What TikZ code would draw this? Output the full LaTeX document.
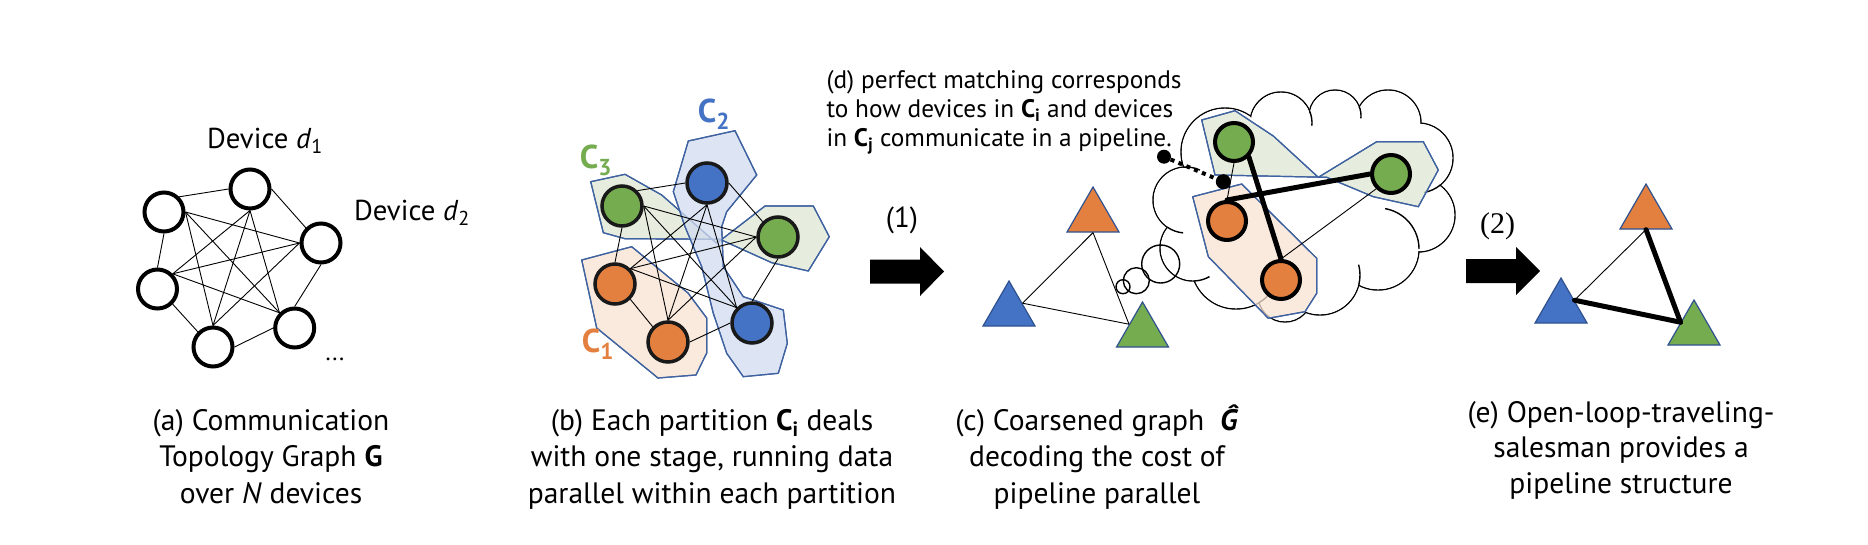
\documentclass[tikz,border=0pt]{standalone}
\usepackage{fontspec}
\setmainfont{PT Sans}
\newfontfamily\serifnum{Liberation Serif}
\usetikzlibrary{shapes.geometric}
\definecolor{myorange}{HTML}{E3803F}
\definecolor{myblue}{HTML}{4472C4}
\definecolor{mygreen}{HTML}{75AC4F}
\definecolor{hullline}{HTML}{3F62A0}
\definecolor{trioutline}{HTML}{2F528F}
\definecolor{hullO}{RGB}{248,228,210}
\definecolor{hullB}{RGB}{210,220,239}
\definecolor{hullG}{RGB}{222,232,211}
\newlength{\tmpw}
\newcommand{\calib}[4]{\settowidth{\tmpw}{#4\fontsize{10}{12}\selectfont #2}\pgfmathsetmacro#1{10*#3/\tmpw}}
\begin{document}
% calibrate text sizes to the widths measured in the reference
\calib{\capsize}{(a) Communication}{236.6}{}%
\calib{\devsize}{Device \textit{d}\textsubscript{1}}{116.6}{}%
\calib{\dsize}{(d) perfect matching corresponds}{355}{}%
\begin{tikzpicture}[x=1pt,y=-1pt,
  dev/.style={circle, draw=black, line width=4pt, fill=white, minimum size=39pt, inner sep=0pt},
  devb/.style={circle, draw=black!90, line width=3.5pt, minimum size=40pt, inner sep=0pt},
  devc/.style={circle, draw=black, line width=4pt, minimum size=38pt, inner sep=0pt},
  edgethin/.style={line width=0.9pt},
  edgethick/.style={line width=5pt, line cap=round},
  hull/.style={draw=hullline, line width=1.2pt, fill opacity=0.75},
  hullstroke/.style={draw=hullline, line width=1.2pt},
  tri/.style={regular polygon, regular polygon sides=3, minimum size=60pt, inner sep=0pt, draw=trioutline, line width=1.2pt},
  cloudline/.style={line width=1.4pt},
  caption/.style={font=\fontsize{\capsize}{36.5}\selectfont, align=center, anchor=base},
  clabel/.style={font=\bfseries\fontsize{33}{34}\selectfont, anchor=base},
]
\fill[white] (0,0) rectangle (1868,544);
\path[use as bounding box] (0,0) rectangle (1868,544);

% ---------------- (a) ----------------
\node[font=\fontsize{\devsize}{30}\selectfont, anchor=base] (d1lbl) at (265,148) {Device \textit{d}\textsubscript{1}};
\node[font=\fontsize{\devsize}{30}\selectfont, anchor=base] (d2lbl) at (412,220) {Device \textit{d}\textsubscript{2}};
\node[dev] (aT) at (250,189) {};
\node[dev] (aLT) at (164,212) {};
\node[dev] (aR) at (321,243) {};
\node[dev] (aLM) at (157.5,289) {};
\node[dev] (aB) at (213,347) {};
\node[dev] (aBR) at (294.7,328) {};
\node[font=\fontsize{24}{28}\selectfont, anchor=base] (dots) at (335,360) {...};

% ---------------- (b) hulls ----------------
\fill[hull, fill=hullG] (590.7,181.7) -- (625,174.3) -- (661.7,195) -- (716.7,243.3) -- (765,206) -- (813.3,206) -- (829.3,236.7) -- (808.3,271) -- (771.7,262.7) -- (720,239.3) -- (625,238.7) -- (603.3,232.7) -- cycle;
\draw[hullstroke] (590.7,181.7) -- (625,174.3) -- (661.7,195) -- (716.7,243.3) -- (765,206) -- (813.3,206) -- (829.3,236.7) -- (808.3,271) -- (771.7,262.7) -- (720,239.3) -- (625,238.7) -- (603.3,232.7) -- cycle;
\fill[hull, fill=hullB] (688.3,141) -- (735,130.7) -- (756.7,175) -- (726.7,211.7) -- (721.7,226.7) -- (723.3,266.7) -- (743.3,296.7) -- (783.3,310) -- (787.3,343.3) -- (778.3,373.3) -- (743.3,376.7) -- (726.7,353.3) -- (713.3,313.3) -- (701.7,266.7) -- (685,226.7) -- (673.3,191.7) -- cycle;
\draw[hullstroke] (688.3,141) -- (735,130.7) -- (756.7,175) -- (726.7,211.7) -- (721.7,226.7) -- (723.3,266.7) -- (743.3,296.7) -- (783.3,310) -- (787.3,343.3) -- (778.3,373.3) -- (743.3,376.7) -- (726.7,353.3) -- (713.3,313.3) -- (701.7,266.7) -- (685,226.7) -- (673.3,191.7) -- cycle;
\fill[hull, fill=hullO] (581.7,260) -- (631.7,246.7) -- (688,293) -- (706.7,318) -- (706.7,353) -- (696,375) -- (658,378) -- (596.7,328) -- cycle;
\draw[hullstroke] (581.7,260) -- (631.7,246.7) -- (688,293) -- (706.7,318) -- (706.7,353) -- (696,375) -- (658,378) -- (596.7,328) -- cycle;

% ---------------- (b) nodes ----------------
\node[devb, fill=mygreen] (bLT) at (622,206) {};
\node[devb, fill=myblue] (bT) at (707,183) {};
\node[devb, fill=mygreen] (bR) at (778,237) {};
\node[devb, fill=myorange] (bLM) at (615,284) {};
\node[devb, fill=myorange] (bB) at (668,342) {};
\node[devb, fill=myblue] (bBR) at (752,323) {};
\node[clabel, text=myorange] (c1) at (598,352) {C\textsubscript{1}};
\node[clabel, text=myblue] (c2) at (714,122) {C\textsubscript{2}};
\node[clabel, text=mygreen] (c3) at (596,168) {C\textsubscript{3}};

% edges of (a) and (b)
\foreach \p in {a,b}{
  \draw[edgethin] (\p T.west) -- (\p LT.north east);
  \draw[edgethin] (\p T.east) -- (\p R.north west);
  \draw[edgethin] (\p R.south) -- (\p BR.north);
  \draw[edgethin] (\p BR.west) -- (\p B.east);
  \draw[edgethin] (\p B.north west) -- (\p LM.south east);
  \draw[edgethin] (\p LM.north) -- (\p LT.south);
  \draw[edgethin] (\p LT.east) -- (\p R.west);
  \draw[edgethin] (\p LT.east) -- (\p BR.north west);
  \draw[edgethin] (\p LT.east) -- (\p B.north);
  \draw[edgethin] (\p T.south) -- (\p LM.north east);
  \draw[edgethin] (\p T.south) -- (\p B.north);
  \draw[edgethin] (\p T.south) -- (\p BR.north west);
  \draw[edgethin] (\p R.west) -- (\p LM.north east);
  \draw[edgethin] (\p R.west) -- (\p B.north);
  \draw[edgethin] (\p LM.north east) -- (\p BR.north west);
}

% ---------------- arrows ----------------
\node[font=\fontsize{29}{32}\selectfont] (one) at (902,220) {(1)};
\fill[black] (870,259.5) -- (920,259.5) -- (920,247) -- (944,271.5) -- (920,296) -- (920,283.5) -- (870,283.5) -- cycle;
\node[font=\serifnum\fontsize{30}{32}\selectfont] (two) at (1497.5,226) {(2)};
\fill[black] (1466,259) -- (1516,259) -- (1516,247) -- (1540,271) -- (1516,295) -- (1516,283) -- (1466,283) -- cycle;

% ---------------- (d) text ----------------
\node[font=\fontsize{\dsize}{29}\selectfont, align=left, anchor=base west] (dtxt) at (823,146)
  {(d) perfect matching corresponds\\to how devices in \textbf{C}\textsubscript{\textbf{i}} and devices\\in \textbf{C}\textsubscript{\textbf{j}} communicate in a pipeline.};

% ---------------- cloud ----------------
\foreach \cx/\cy/\r in {1225/152/44, 1281/123/31, 1335/116/26, 1388/123/33, 1418/158/35, 1418/215/37, 1378/249/41, 1320/275/40, 1285/295/27, 1236/264/45, 1193/248/33, 1186/200/33}
  \draw[cloudline] (\cx,\cy) circle[radius=\r];
\foreach \cx/\cy/\r in {1225/152/44, 1281/123/31, 1335/116/26, 1388/123/33, 1418/158/35, 1418/215/37, 1378/249/41, 1320/275/40, 1285/295/27, 1236/264/45, 1193/248/33, 1186/200/33}
  \fill[white] (\cx,\cy) circle[radius=\r-0.75];
\fill[white] (1225,152) -- (1281,123) -- (1335,116) -- (1388,123) -- (1418,158) -- (1418,215) -- (1378,249) -- (1320,275) -- (1285,295) -- (1236,264) -- (1193,248) -- (1186,200) -- cycle;
\fill[white] (1305,205) ellipse[x radius=115, y radius=75];
\foreach \cx/\cy/\r/\a/\b in {1186/200/33/266/295, 1186/200/33/124/95, 1193/248/33/87/60, 1281/123/31/337/365, 1335/116/26/339/365, 1418/158/35/51/80, 1378/249/41/280/360, 1320/275/40/14/-15, 1236/264/45/59/30}
  \draw[cloudline] (\cx,\cy) ++(\a:\r) arc[start angle=\a, end angle=\b, radius=\r];
% thought bubbles
\draw[cloudline] (1160.7,264) circle[radius=19];
\draw[cloudline] (1136.3,280.7) circle[radius=13];
\draw[cloudline] (1123,286.7) circle[radius=7];

% hulls in cloud
\fill[hull, fill=hullG] (1201.7,120) -- (1235,110.7) -- (1273.3,136) -- (1318.3,177.3) -- (1376.7,141.7) -- (1423.3,141.7) -- (1438.3,170) -- (1418.3,206.7) -- (1373.3,196.7) -- (1326.7,177.3) -- (1215,175) -- cycle;
\draw[hullstroke] (1201.7,120) -- (1235,110.7) -- (1273.3,136) -- (1318.3,177.3) -- (1376.7,141.7) -- (1423.3,141.7) -- (1438.3,170) -- (1418.3,206.7) -- (1373.3,196.7) -- (1326.7,177.3) -- (1215,175) -- cycle;
\fill[hull, fill=hullO] (1192.7,196.7) -- (1241.7,184) -- (1316.7,258.3) -- (1316.7,293.3) -- (1305,311.7) -- (1268.3,318.3) -- (1208.3,256.7) -- cycle;
\draw[hullstroke] (1192.7,196.7) -- (1241.7,184) -- (1316.7,258.3) -- (1316.7,293.3) -- (1305,311.7) -- (1268.3,318.3) -- (1208.3,256.7) -- cycle;

% nodes in cloud
\node[devc, fill=mygreen] (cgA) at (1234,142) {};
\node[devc, fill=mygreen] (cgB) at (1391,174) {};
\node[devc, fill=myorange] (coA) at (1227,221) {};
\node[devc, fill=myorange] (coB) at (1281,280) {};
\draw[edgethin] (cgA.south) -- (coA.north);
\draw[edgethin] (coB.north) -- (cgB.south west);
\draw[edgethick] (cgA.south east) -- (coB.north);
\draw[edgethick] (coA.north) -- (cgB.west);

% dotted pointer
\node[circle, fill=black, minimum size=14pt, inner sep=0pt] (dotA) at (1164,156.7) {};
\node[circle, fill=black, minimum size=15pt, inner sep=0pt] (dotB) at (1223.3,181.7) {};
\draw[line width=4pt, dash pattern=on 4pt off 4.5pt] (dotA) -- (dotB);

% ---------------- (c) triangles ----------------
\node[tri, fill=myorange] (tO) at (1093,217) {};
\node[tri, fill=myblue] (tB) at (1009,311) {};
\node[tri, fill=mygreen] (tG) at (1142.5,332) {};
\draw[edgethin] (tO.side 2) -- (tB.side 3);
\draw[edgethin] (tO.side 2) -- (tG.side 1);
\draw[edgethin] (tB.side 3) -- (tG.side 1);

% ---------------- (e) triangles ----------------
\node[tri, fill=myorange] (eO) at (1646,214) {};
\node[tri, fill=myblue] (eB) at (1561,308) {};
\node[tri, fill=mygreen] (eG) at (1694,330) {};
\draw[edgethin] (eO.side 2) -- (eB.side 3);
\draw[edgethick] (eO.side 2) -- (eG.side 1);
\draw[edgethick] (eB.side 3) -- (eG.side 1);

% ---------------- captions (base = last line) ----------------
\node[caption] (capa) at (271,503) {(a) Communication\\Topology Graph \textbf{G}\\over \textit{N} devices};
\node[caption] (capb) at (712,503) {(b) Each partition \textbf{C}\textsubscript{\textbf{i}} deals\\with one stage, running data\\parallel within each partition};
\node[caption] (capc) at (1097,503) {(c) Coarsened graph\ \ \textbf{\textit{Ĝ}}\\decoding the cost of\\pipeline parallel};
\node[caption, font=\fontsize{\capsize}{35.5}\selectfont] (cape) at (1621,493) {(e) Open-loop-traveling-\\salesman provides a\\pipeline structure};
\end{tikzpicture}
\end{document}
